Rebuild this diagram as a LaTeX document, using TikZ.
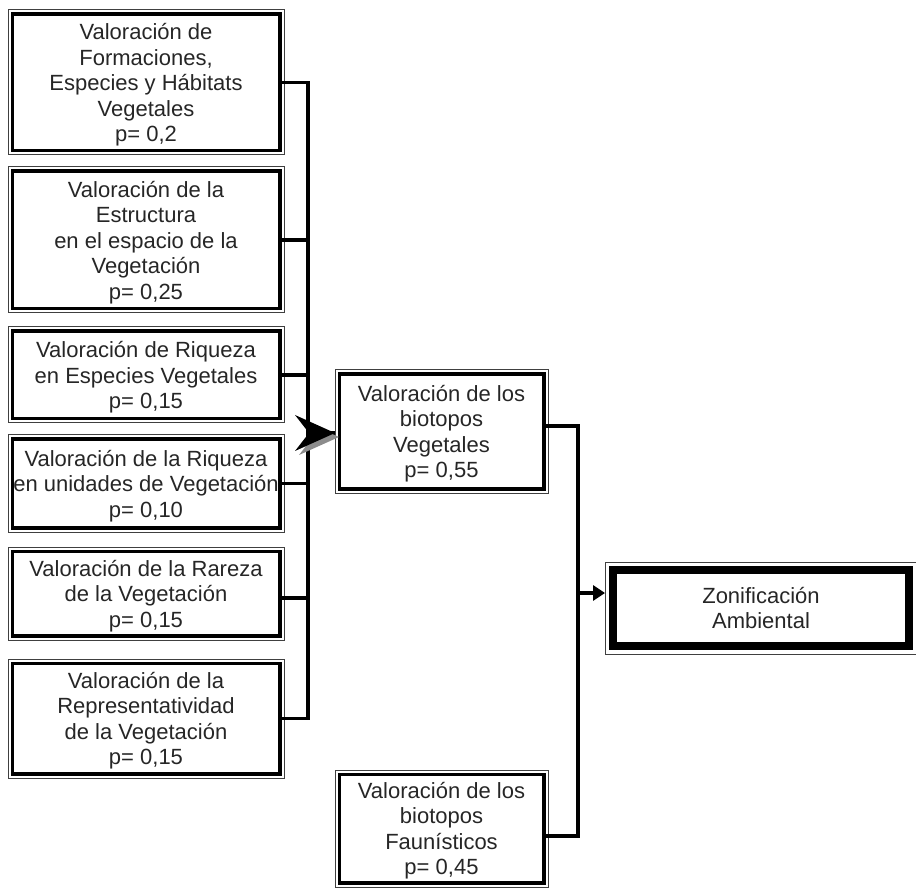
\documentclass[tikz,border=0pt]{standalone}
\usepackage{fontspec}
\setmainfont{Liberation Sans}
\usetikzlibrary{arrows.meta}
\begin{document}
\begin{tikzpicture}[x=1pt,y=-1pt,
  box/.style={draw, line width=3.5pt, rectangle, inner sep=0pt, outer sep=0pt, align=center,
    font=\fontsize{22}{25.5}\selectfont, text=black!85, text depth=-3pt},
  bigbox/.style={box, line width=8.5pt},
  frame/.style={draw=black!75, line width=1pt},
  conn/.style={draw, line width=3.5pt, line join=miter},
]
\useasboundingbox (0,0) rectangle (916,890);
% left column
\node[box, minimum width=267.5pt, minimum height=136.5pt] (b1) at (146,82.5)
  {Valoración de\\Formaciones,\\Especies y Hábitats\\Vegetales\\p= 0,2};
\node[box, minimum width=267.5pt, minimum height=137.5pt] (b2) at (146,240)
  {Valoración de la\\Estructura\\en el espacio de la\\Vegetación\\p= 0,25};
\node[box, minimum width=267.5pt, minimum height=87.5pt] (b3) at (146,375)
  {Valoración de Riqueza\\en Especies Vegetales\\p= 0,15};
\node[box, minimum width=267.5pt, minimum height=88.5pt] (b4) at (146,483.5)
  {Valoración de la Riqueza\\en unidades de Vegetación\\p= 0,10};
\node[box, minimum width=267.5pt, minimum height=84.5pt] (b5) at (146,593.5)
  {Valoración de la Rareza\\de la Vegetación\\p= 0,15};
\node[box, minimum width=267.5pt, minimum height=110.5pt] (b6) at (146,718.5)
  {Valoración de la\\Representatividad\\de la Vegetación\\p= 0,15};
% middle column
\node[box, minimum width=204.5pt, minimum height=114.5pt] (bV) at (441.5,431.5)
  {Valoración de los\\biotopos\\Vegetales\\p= 0,55};
\node[box, minimum width=204.5pt, minimum height=108.5pt] (bF) at (441.5,828.5)
  {Valoración de los\\biotopos\\Faunísticos\\p= 0,45};
% result
\node[bigbox, minimum width=296pt, minimum height=76pt] (Z) at (761,608)
  {Zonificación\\Ambiental};
% outer thin frames
\foreach \n in {b1,b2,b3,b4,b5,b6,bV,bF}
  \draw[frame] ([shift={(-4.25pt,4.25pt)}]\n.north west) rectangle ([shift={(4.25pt,-4.25pt)}]\n.south east);
\draw[frame] ([shift={(-8pt,8pt)}]Z.north west) rectangle ([shift={(8pt,-8pt)}]Z.south east);
% bars
\coordinate (lbar) at (308,0);
\coordinate (rbar) at (578,0);
\draw[conn] (b1.east) -- (b1.east -| lbar) -- (b6.east -| lbar) -- (b6.east);
\foreach \n in {b2,b3,b4}
  \draw[conn] (\n.east) -- (\n.east -| lbar);
\draw[conn] ([yshift=-4.5pt]b5.east) -- ([yshift=-4.5pt]b5.east -| lbar);
\draw[conn] ([yshift=5.5pt]bV.east) -- ([yshift=5.5pt]bV.east -| rbar)
  -- ([yshift=-7.5pt]bF.east -| rbar) -- ([yshift=-7.5pt]bF.east);
% arrow into Zonificacion
\coordinate (tipZ) at ([shift={(-8pt,15pt)}]Z.west);
\draw[line width=3.5pt, -{Triangle[length=12pt,width=15pt]}] (tipZ -| rbar) -- (tipZ);
% big arrow into biotopos Vegetales
\coordinate (tipV) at ([shift={(-4.25pt,-1.5pt)}]bV.west);
\draw[line width=3.5pt] (tipV -| lbar) -- (tipV);
\fill[black!45] ([shift={(4,4)}]tipV) -- ++(-40,-18) -- ++(14,18) -- ++(-14,18) -- cycle;
\fill[black] (tipV) -- ++(-40,-18) -- ++(14,18) -- ++(-14,18) -- cycle;
\end{tikzpicture}
\end{document}
